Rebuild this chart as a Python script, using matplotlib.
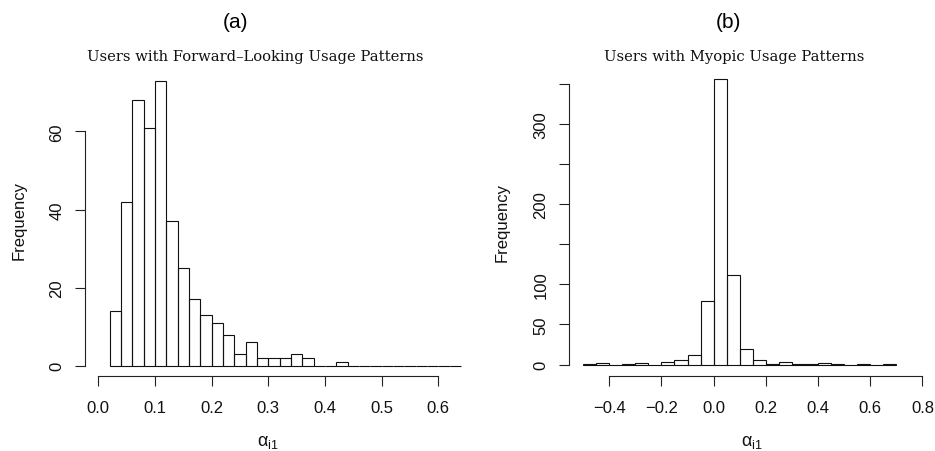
import matplotlib.pyplot as plt
import numpy as np

# histogram (a): forward-looking users, bins of width 0.02 from 0.02 to 0.64
fwd_edges = np.round(np.arange(0.02, 0.6401, 0.02), 2)
fwd_counts = [14, 42, 68, 61, 73, 37, 25, 17, 13, 11, 8, 3, 6, 2, 2, 2, 3, 2,
              0, 0, 1, 0, 0, 0, 0, 0, 0, 0, 0, 0, 0]

# histogram (b): myopic users, bins of width 0.05 from -0.5 to 0.7
myo_edges = np.round(np.arange(-0.5, 0.7001, 0.05), 2)
myo_counts = [1, 2, 0, 1, 2, 0, 3, 5, 12, 79, 356, 112, 19, 6, 1, 3, 1, 1,
              2, 1, 0, 1, 0, 1]

fwd_xticks = [0.0, 0.1, 0.2, 0.3, 0.4, 0.5, 0.6]
fwd_yticks = [0, 20, 40, 60]
myo_xticks = [-0.4, -0.2, 0.0, 0.2, 0.4, 0.6, 0.8]
myo_yticks = [0, 50, 100, 150, 200, 250, 300, 350]
myo_ylabels = ['0', '50', '100', '', '200', '', '300', '']

W, H = 935, 452
plt.rcParams['font.family'] = 'Liberation Sans'
plt.rcParams['mathtext.fontset'] = 'custom'
plt.rcParams['mathtext.rm'] = 'Liberation Sans'
plt.rcParams['mathtext.it'] = 'Liberation Sans'

fig = plt.figure(figsize=(W / 100, H / 100), dpi=100)


def fx(px):
    return px / W


def fy(py):
    return 1 - py / H


def r_hist(rect, edges, counts, xlim, ylim, xticks, yticks, ylabels=None):
    x0, x1, ytop, ybot = rect
    ax = fig.add_axes([fx(x0), fy(ybot), fx(x1 - x0), (ybot - ytop) / H])
    widths = np.diff(edges)
    ax.bar(edges[:-1], counts, width=widths, align='edge', fill=False,
           edgecolor='#111111', linewidth=0.8, clip_on=False)
    ax.set_xlim(*xlim)
    ax.set_ylim(*ylim)
    for s in ['top', 'right']:
        ax.spines[s].set_visible(False)
    ax.spines['left'].set_bounds(yticks[0], yticks[-1])
    ax.spines['bottom'].set_bounds(xticks[0], xticks[-1])
    for s in ['left', 'bottom']:
        ax.spines[s].set_linewidth(0.8)
        ax.spines[s].set_color('#222222')
    ax.set_xticks(xticks)
    ax.set_xticklabels([f'{t:.1f}'.replace('-', '\u2212') for t in xticks])
    ax.set_yticks(yticks)
    ax.set_yticklabels(ylabels if ylabels else [str(t) for t in yticks],
                       rotation=90, va='center')
    ax.tick_params(axis='both', length=7, width=0.8, color='#222222',
                   labelsize=12, labelcolor='#111111')
    ax.tick_params(axis='x', pad=10)
    ax.tick_params(axis='y', pad=8)
    ax.patch.set_visible(False)
    return ax


ax1 = r_hist((85, 465, 75, 377.3), fwd_edges, fwd_counts,
             (-0.0235, 0.647), (-2.7, 74.7), fwd_xticks, fwd_yticks)
ax2 = r_hist((569.3, 930, 75, 377.3), myo_edges, myo_counts,
             (-0.553, 0.829), (-14.7, 362.1), myo_xticks, myo_yticks,
             myo_ylabels)

# panel letters and titles
fig.text(fx(236), fy(23), '(a)', ha='center', va='center', fontsize=15)
fig.text(fx(728), fy(23), '(b)', ha='center', va='center', fontsize=15)
fig.text(fx(255), fy(60.5), 'Users with Forward\u2013Looking Usage Patterns',
         ha='center', va='baseline', fontsize=10.6, family='DejaVu Serif',
         color='#111111')
fig.text(fx(734), fy(60.5), 'Users with Myopic Usage Patterns',
         ha='center', va='baseline', fontsize=10.6, family='DejaVu Serif',
         color='#111111')

# axis labels
for xc, yc in [(19, 221), (502, 223)]:
    fig.text(fx(xc), fy(yc), 'Frequency', rotation=90, ha='center',
             va='center', fontsize=12, color='#111111')
for xc in [268, 752]:
    fig.text(fx(xc), fy(443), r'$\alpha_{\mathrm{i1}}$', ha='center',
             va='center', fontsize=13, color='#111111')

fig.savefig('out.png', dpi=100)
